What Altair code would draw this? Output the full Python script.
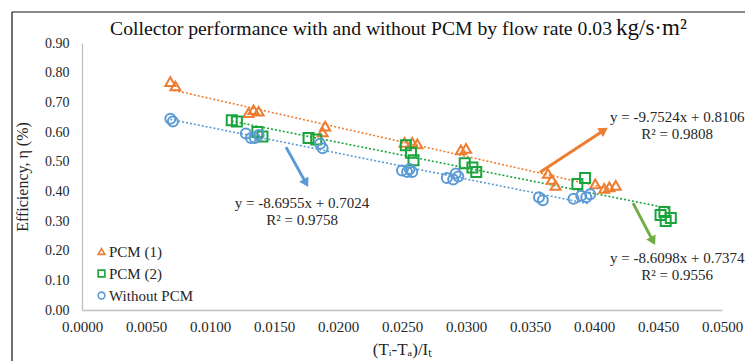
import altair as alt
import pandas as pd
import numpy as np

FONT = "Liberation Serif"
TXT = "#262626"

# ---- data ----
series_names = ["PCM (1)", "PCM (2)", "Without PCM"]
series_colors = ["#ED7D31", "#1AA53C", "#5B9BD5"]
series_shapes = ["triangle-up", "square", "circle"]

pcm1_x = [0.0069, 0.0073, 0.0130, 0.0134, 0.0138, 0.0190, 0.0188, 0.0252, 0.0258, 0.0262,
          0.0296, 0.0300, 0.0364, 0.0367, 0.0370, 0.0401, 0.0408, 0.0412, 0.0417]
pcm1_y = [0.770, 0.755, 0.665, 0.675, 0.670, 0.620, 0.600, 0.565, 0.565, 0.560,
          0.540, 0.545, 0.460, 0.440, 0.420, 0.425, 0.410, 0.415, 0.420]

pcm2_x = [0.0117, 0.0121, 0.0137, 0.0141, 0.0177, 0.0183, 0.0253, 0.0257, 0.0259,
          0.0299, 0.0305, 0.0308, 0.0387, 0.0393, 0.0452, 0.0456, 0.0460, 0.0455]
pcm2_y = [0.640, 0.635, 0.600, 0.585, 0.580, 0.575, 0.555, 0.530, 0.505,
          0.495, 0.480, 0.465, 0.425, 0.445, 0.320, 0.300, 0.310, 0.330]

wo_x = [0.0069, 0.0071, 0.0128, 0.0132, 0.0135, 0.0138, 0.0186, 0.0188, 0.0250, 0.0254,
        0.0258, 0.0256, 0.0285, 0.0290, 0.0294, 0.0292, 0.0357, 0.0360, 0.0384, 0.0390,
        0.0394, 0.0397]
wo_y = [0.645, 0.635, 0.595, 0.580, 0.580, 0.590, 0.560, 0.545, 0.470, 0.465,
        0.465, 0.475, 0.445, 0.440, 0.450, 0.460, 0.380, 0.370, 0.375, 0.385,
        0.380, 0.390]

# trendline equations shown on the chart
trend_slope = [-9.7524, -8.6098, -8.6955]
trend_intercept = [0.8106, 0.7374, 0.7024]
trend_r2 = ["0.9808", "0.9556", "0.9758"]

# annotations (data units): label centre, arrow start/end
ann_series = ["PCM (1)", "PCM (2)", "Without PCM"]
ann_text_x = [0.04650, 0.04650, 0.01719]
ann_text_y = [0.650, 0.175, 0.360]
arrow_x1 = [0.03578, 0.04305, 0.01594]
arrow_y1 = [0.4646, 0.3603, 0.5490]
arrow_x2 = [0.04078, 0.04461, 0.01750]
arrow_y2 = [0.6060, 0.2323, 0.4276]
arrow_colors = ["#ED7D31", "#70AD47", "#5B9BD5"]

x_ticks = [round(0.005 * i, 4) for i in range(11)]
y_ticks = [round(0.1 * i, 2) for i in range(10)]

W, H = 640, 267
XD, YD = [0, 0.05], [0, 0.9]

# ---- tables ----
pts = pd.concat([
    pd.DataFrame({"x": pcm1_x, "y": pcm1_y, "series": "PCM (1)"}),
    pd.DataFrame({"x": pcm2_x, "y": pcm2_y, "series": "PCM (2)"}),
    pd.DataFrame({"x": wo_x, "y": wo_y, "series": "Without PCM"}),
], ignore_index=True)

rows = []
for name, col, m, b in zip(series_names, series_colors, trend_slope, trend_intercept):
    sub = pts[pts.series == name]
    for xv in (sub.x.min(), sub.x.max()):
        rows.append({"x": xv, "y": m * xv + b, "series": name, "col": col})
trend = pd.DataFrame(rows)

sx = W / (XD[1] - XD[0])
sy = H / (YD[1] - YD[0])
arr = pd.DataFrame({"x1": arrow_x1, "y1": arrow_y1, "x2": arrow_x2, "y2": arrow_y2,
                    "col": arrow_colors})
dxp = (arr.x2 - arr.x1) * sx
dyp = -(arr.y2 - arr.y1) * sy
arr["angle"] = np.mod(np.degrees(np.arctan2(dxp, -dyp)), 360)

ann_rows = []
for s, tx, ty in zip(ann_series, ann_text_x, ann_text_y):
    i = series_names.index(s)
    m, b = trend_slope[i], trend_intercept[i]
    ann_rows.append({"x": tx, "y": ty, "line": 0,
                     "t": f"y = {m:.4f}x + {b:.4f}"})
    ann_rows.append({"x": tx, "y": ty, "line": 1, "t": f"R² = {trend_r2[i]}"})
ann = pd.DataFrame(ann_rows)

xs = alt.Scale(domain=XD, nice=False, zero=False)
ys = alt.Scale(domain=YD, nice=False, zero=False)

x_axis = alt.Axis(values=x_ticks, format=".4f", title="(Tᵢ-Tₐ)/Iₜ", labelFontSize=15,
                  labelFont=FONT, titleFont=FONT, labelOverlap=False, labelFlush=False,
                  labelBound=False, labelPadding=9, titleFontSize=17, titlePadding=7)
y_axis = alt.Axis(values=y_ticks, format=".2f", title="Efficiency, η (%)", labelFontSize=14,
                  labelFont=FONT, titleFont=FONT, labelOverlap=False, labelFlush=False,
                  labelBound=False, labelPadding=13, titleFontSize=16, titleX=-60,
                  titleY=H / 2, titleBaseline="middle", titleAngle=270)


def X(f):
    return alt.X(f, scale=xs, axis=x_axis)


def Y(f):
    return alt.Y(f, scale=ys, axis=y_axis)


one = alt.Data(values=[{}])

frame_top = alt.Chart(one).mark_rule(color="#111", strokeWidth=1.2).encode(
    x=alt.value(-70), x2=alt.value(700), y=alt.value(-31))
frame_left = alt.Chart(one).mark_rule(color="#111", strokeWidth=1.2).encode(
    x=alt.value(-70), y=alt.value(-31), y2=alt.value(330))

trend_layer = alt.Chart(trend).mark_line(strokeDash=[2, 2], strokeWidth=1.6).encode(
    x=X("x:Q"), y=Y("y:Q"),
    detail="series:N",
    color=alt.Color("col:N", scale=None),
)

leg = alt.Legend(title=None, orient="none", legendX=12, legendY=201,
                 labelFont=FONT, labelFontSize=15, labelColor=TXT,
                 symbolSize=45, symbolStrokeWidth=1.6, labelOffset=0,
                 rowPadding=6)
points = alt.Chart(pts).mark_point(filled=False, size=100, strokeWidth=2, opacity=1).encode(
    x=X("x:Q"), y=Y("y:Q"),
    color=alt.Color("series:N", scale=alt.Scale(domain=series_names, range=series_colors),
                    legend=leg),
    shape=alt.Shape("series:N", scale=alt.Scale(domain=series_names, range=series_shapes),
                    legend=leg),
)

shafts = alt.Chart(arr).mark_rule(strokeWidth=3).encode(
    x=X("x1:Q"), y=Y("y1:Q"),
    x2="x2:Q", y2="y2:Q",
    color=alt.Color("col:N", scale=None),
)
heads = alt.Chart(arr).mark_point(shape="triangle-up", filled=True, size=110, opacity=1).encode(
    x=X("x2:Q"), y=Y("y2:Q"),
    angle=alt.Angle("angle:Q", scale=None),
    color=alt.Color("col:N", scale=None),
)

ann0 = alt.Chart(ann[ann.line == 0]).mark_text(font=FONT, fontSize=15, color=TXT).encode(
    x=X("x:Q"), y=Y("y:Q"), text="t:N")
ann1 = alt.Chart(ann[ann.line == 1]).mark_text(font=FONT, fontSize=15, color=TXT, dy=17).encode(
    x=X("x:Q"), y=Y("y:Q"), text="t:N")

title_main = alt.Chart(one).mark_text(font=FONT, fontSize=19.7, color="#111", align="right",
                                      baseline="alphabetic").encode(
    x=alt.value(530), y=alt.value(-8),
    text=alt.value("Collector performance with and without PCM by flow rate 0.03"))
title_unit = alt.Chart(one).mark_text(font=FONT, fontSize=23, color="#111", align="left",
                                      baseline="alphabetic").encode(
    x=alt.value(534), y=alt.value(-8), text=alt.value("kg/s·m²"))

chart = alt.layer(
    frame_top, frame_left, trend_layer, points, shafts, heads, ann0, ann1, title_main, title_unit
).properties(
    width=W, height=H, autosize="none",
    padding={"left": 82, "top": 43, "right": 23, "bottom": 51},
).configure_view(stroke=None).configure_axis(
    grid=False, ticks=False, domainColor="#BFBFBF", domainWidth=1.3,
    labelFont=FONT, titleFont=FONT, labelColor=TXT, titleColor=TXT, titleFontWeight="normal",
    labelFlush=False, labelOverlap=False,
).configure_legend(labelFont=FONT)

chart.save("out.html", embed_options={"renderer": "svg", "actions": False})
